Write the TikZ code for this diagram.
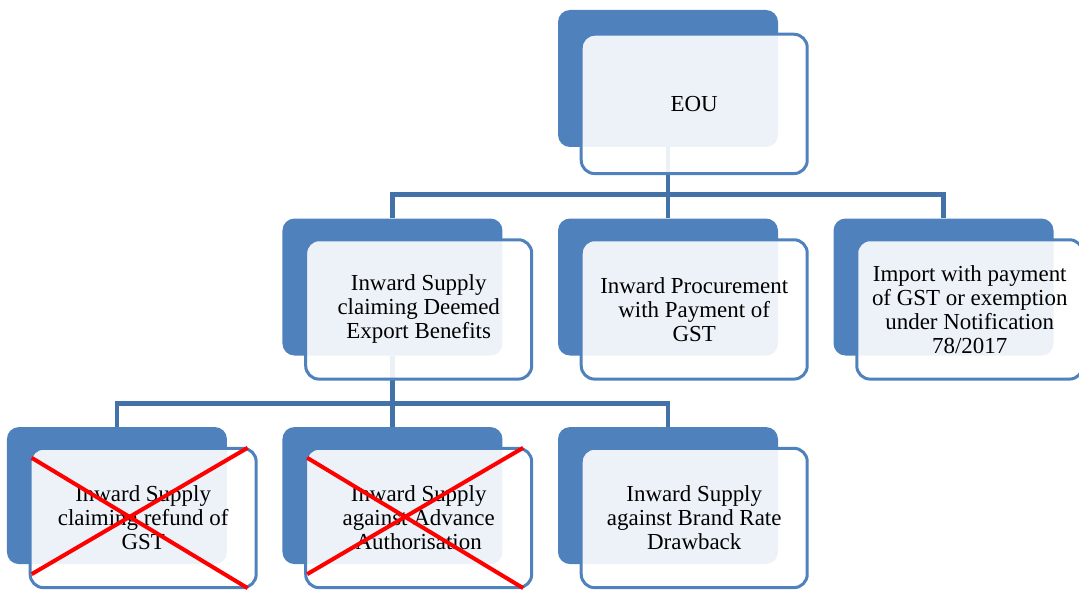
\documentclass[tikz,border=0pt]{standalone}
\usepackage{fontspec}
\setmainfont{Liberation Serif}
\usepackage{tikz}
\usetikzlibrary{positioning, backgrounds, calc}
\definecolor{azul}{HTML}{4F81BD}
\definecolor{azulosc}{HTML}{4372A8}
\definecolor{rojo}{HTML}{FF0000}
\tikzset{
  fondo/.style={rectangle, rounded corners=9pt, fill=azul,
    minimum width=165pt, minimum height=102.75pt},
  frente/.style={rectangle, rounded corners=10pt, draw=azul, line width=2.25pt,
    fill=white, fill opacity=0.9, text opacity=1,
    minimum width=169.5pt, minimum height=104.5pt,
    align=center, font=\fontsize{17.2}{18}\selectfont},
  linea/.style={azulosc, line width=3.6pt},
  tachado/.style={rojo, line width=3pt}
}

\begin{document}
\begin{tikzpicture}[x=0.75pt, y=-0.75pt, node distance=53.25pt and 41.25pt]
  \useasboundingbox (0,0) rectangle (1079,592);

  % --- EOU ---
  \node[fondo] (eou-b) at (668,78.5) {};
  \node[frente, below right=17.25pt and 16.5pt of eou-b.north west, anchor=north west] (eou) {EOU};

  % --- segundo nivel ---
  \node[fondo, below=of eou-b] (proc-b) {};
  \node[fondo, left=of proc-b] (dee-b) {};
  \node[fondo, right=of proc-b] (imp-b) {};
  \node[frente, below right=15pt and 16.5pt of dee-b.north west, anchor=north west] (dee)
    {Inward Supply\\claiming Deemed\\Export Benefits};
  \node[frente, below right=15pt and 16.5pt of proc-b.north west, anchor=north west] (proc)
    {Inward Procurement\\with Payment of\\GST};
  \node[frente, below right=15pt and 16.5pt of imp-b.north west, anchor=north west] (imp)
    {Import with payment\\of GST or exemption\\under Notification\\78/2017};

  % --- tercer nivel ---
  \node[fondo, below=of dee-b] (aa-b) {};
  \node[fondo, left=of aa-b] (rf-b) {};
  \node[fondo, right=of aa-b] (br-b) {};
  \node[frente, below right=15pt and 16.5pt of rf-b.north west, anchor=north west] (rf)
    {Inward Supply\\claiming refund of\\GST};
  \node[frente, below right=15pt and 16.5pt of aa-b.north west, anchor=north west] (aa)
    {Inward Supply\\against Advance\\Authorisation};
  \node[frente, below right=15pt and 16.5pt of br-b.north west, anchor=north west] (br)
    {Inward Supply\\against Brand Rate\\Drawback};

  % --- conectores ---
  \coordinate (bus1) at ($(eou-b.south)!0.66!(proc-b.north)$);
  \coordinate (bus2) at ($(dee-b.south)!0.67!(aa-b.north)$);
  \begin{scope}[on background layer]
    \draw[linea] (eou-b.south) -- (proc-b.north);
    \draw[linea] (dee-b.north) |- (bus1) -| (imp-b.north);
    \draw[linea] (dee-b.south) -- (aa-b.north);
    \draw[linea] (rf-b.north) |- (bus2) -| (br-b.north);
  \end{scope}

  % --- tachados ---
  \draw[tachado] ([shift={(3,11)}]rf.north west) -- ([shift={(-10,-1)}]rf.south east);
  \draw[tachado] ([shift={(3,-15)}]rf.south west) -- ([shift={(-10,1)}]rf.north east);
  \draw[tachado] ([shift={(3,11)}]aa.north west) -- ([shift={(-10,-1)}]aa.south east);
  \draw[tachado] ([shift={(3,-15)}]aa.south west) -- ([shift={(-10,1)}]aa.north east);

\end{tikzpicture}
\end{document}
